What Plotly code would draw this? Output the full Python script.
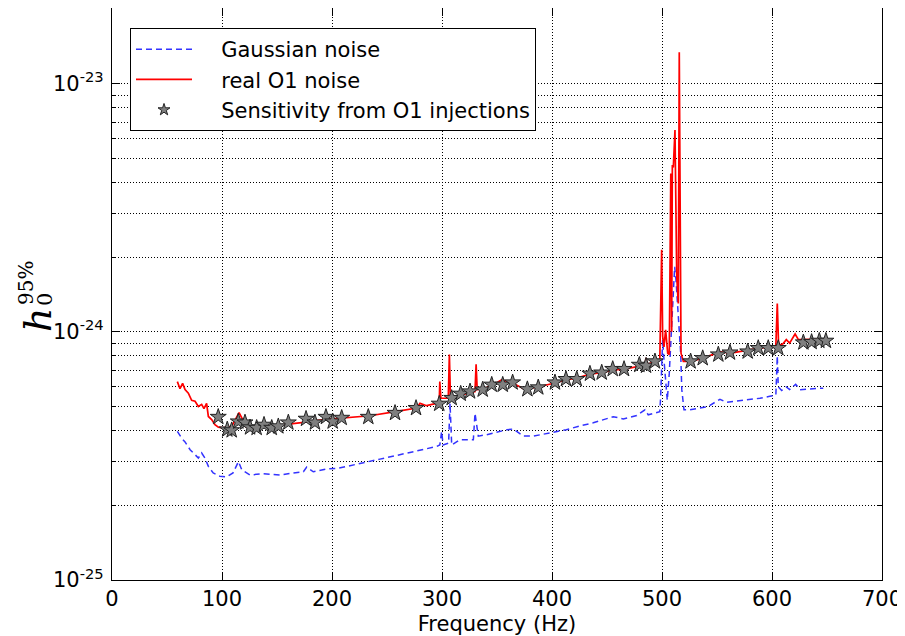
import plotly.graph_objects as go

# ---- data ----
gauss_f = [59.4, 63.3, 66.4, 71, 75.5, 78.5, 81.5, 84.5, 87.6, 92, 98, 104, 110, 115, 118,
           125.5, 137.5, 152.7, 165, 174, 177, 183, 195, 205.7, 243.6, 262, 280, 295, 298,
           299.7, 301, 306, 307.3, 308.8, 316, 328.5, 330, 333, 340.6, 352.7, 358.8, 364.8,
           374, 383, 399.7, 413, 425.5, 437.5, 455.7, 464.8, 477, 484.5, 487.5, 493.6, 498,
           498.8, 499.7, 500.6, 501.8, 503.6, 504.8, 506.6, 508, 510.3, 511.5, 512.7, 514,
           515.7, 517, 518, 520, 525.5, 534.5, 541.8, 552.7, 558.8, 574, 589, 598, 603.5,
           604.8, 605.7, 608.8, 613, 616, 621.5, 625.5, 634.5, 646.6]
gauss_h = [3.97e-25, 3.73e-25, 3.6e-25, 3.35e-25, 3.2e-25, 3.1e-25, 3.25e-25, 3.1e-25, 2.87e-25,
           2.7e-25, 2.62e-25, 2.6e-25, 2.7e-25, 3.0e-25, 2.78e-25, 2.65e-25, 2.68e-25, 2.65e-25,
           2.7e-25, 2.73e-25, 2.85e-25, 2.73e-25, 2.8e-25, 2.82e-25, 3.07e-25, 3.2e-25, 3.35e-25,
           3.45e-25, 3.5e-25, 3.97e-25, 3.5e-25, 3.56e-25, 5.16e-25, 3.5e-25, 3.67e-25, 3.67e-25,
           4.7e-25, 3.8e-25, 3.85e-25, 3.97e-25, 4.03e-25, 4.06e-25, 3.8e-25, 3.8e-25, 3.93e-25,
           4.03e-25, 4.18e-25, 4.3e-25, 4.55e-25, 4.46e-25, 4.6e-25, 4.85e-25, 4.63e-25, 4.7e-25,
           4.77e-25, 5.5e-25, 7.0e-25, 9.3e-25, 7.7e-25, 6.4e-25, 5.3e-25, 6.8e-25, 9.3e-25,
           1.43e-24, 1.83e-24, 1.62e-24, 1.3e-24, 1.08e-24, 8.2e-25, 5.85e-25, 4.85e-25,
           4.85e-25, 4.95e-25, 5.0e-25, 5.35e-25, 5.2e-25, 5.3e-25, 5.4e-25, 5.5e-25, 5.55e-25,
           8.0e-25, 6.0e-25, 5.8e-25, 6.0e-25, 5.85e-25, 6.15e-25, 5.85e-25, 5.88e-25, 5.93e-25]

real_f = [59.4, 61.8, 64.2, 66.4, 69.4, 72.4, 75.5, 78.5, 81.5, 83.6, 86, 87.6, 90.6, 93.6,
          96.7, 101, 108.8, 113, 115.5, 118, 122, 131.5, 143.6, 155.7, 168, 180, 192, 204,
          213, 234.5, 259, 277, 280, 286, 295, 297.5, 298, 299, 305.7, 306.7, 307.7, 313,
          330, 331, 332, 343.6, 354, 363, 375, 387.5, 399.7, 413, 422, 434.5, 446.6, 455.7,
          466, 477, 484.5, 485.5, 486.5, 493.6, 498, 499.7, 500.6, 501.8, 503.3, 505.2,
          506.6, 508, 508.8, 509.4, 510.3, 511.8, 513.4, 514.8, 515.7, 517.3, 518, 519.4,
          525.5, 536, 552.7, 563, 569, 578.5, 589, 599.7, 603.5, 604.8, 606, 610, 613, 616,
          621, 624, 634.5, 646.6, 651]
real_h = [6.3e-25, 5.9e-25, 6.2e-25, 5.85e-25, 5.66e-25, 5.3e-25, 5.25e-25, 5.0e-25, 5.1e-25,
          4.9e-25, 5.15e-25, 4.56e-25, 4.43e-25, 4.23e-25, 4.13e-25, 4.1e-25, 4.16e-25, 4.5e-25,
          4.73e-25, 4.5e-25, 4.13e-25, 4.1e-25, 4.16e-25, 4.2e-25, 4.26e-25, 4.35e-25, 4.43e-25,
          4.48e-25, 4.5e-25, 4.59e-25, 4.78e-25, 4.93e-25, 5.15e-25, 5.04e-25, 5.15e-25, 5.2e-25,
          6.3e-25, 5.4e-25, 5.4e-25, 8.1e-25, 5.4e-25, 5.5e-25, 5.75e-25, 7.4e-25, 5.85e-25,
          6.0e-25, 6.4e-25, 6.25e-25, 5.88e-25, 6.0e-25, 6.18e-25, 6.4e-25, 6.5e-25, 6.75e-25,
          6.86e-25, 7.03e-25, 7.08e-25, 7.25e-25, 7.35e-25, 7.85e-25, 7.38e-25, 7.6e-25, 7.7e-25,
          2.14e-24, 9.6e-25, 8.7e-25, 1.02e-24, 8.2e-25, 8.1e-25, 4.35e-24, 1.0e-24, 4.7e-24,
          4.6e-24, 6.5e-24, 1.67e-24, 1.3e-24, 1.34e-23, 8.2e-25, 8.0e-25, 7.6e-25, 7.6e-25,
          7.8e-25, 8.3e-25, 8.2e-25, 8.3e-25, 8.45e-25, 8.6e-25, 8.7e-25, 8.8e-25, 1.3e-24,
          8.8e-25, 8.95e-25, 9.3e-25, 9.0e-25, 9.8e-25, 9.3e-25, 9.3e-25, 9.35e-25, 9.4e-25]

inj_f = [96.6, 104.8, 108.8, 114.8, 120.9, 125.5, 131.5, 138.2, 145.2, 151.2, 160.3, 176.4,
         184.5, 194.5, 200.6, 208.8, 233.0, 257.3, 276.4, 297.5, 308.8, 317.0, 325.5, 337.0,
         345.2, 355.2, 364.2, 377.6, 387.5, 402.7, 412.7, 422.5, 434.5, 445.2, 455.2, 465.5,
         479.4, 485.5, 493.6, 526.0, 537.0, 551.2, 561.8, 577.9, 587.5, 596.6, 605.7, 628.5,
         636.0, 643.0, 649.0]
inj_h = [4.54e-25, 4.04e-25, 4.01e-25, 4.35e-25, 4.31e-25, 4.12e-25, 4.10e-25, 4.22e-25,
         4.10e-25, 4.16e-25, 4.31e-25, 4.46e-25, 4.31e-25, 4.54e-25, 4.35e-25, 4.50e-25,
         4.54e-25, 4.71e-25, 4.93e-25, 5.13e-25, 5.41e-25, 5.63e-25, 5.75e-25, 5.85e-25,
         6.12e-25, 6.12e-25, 6.25e-25, 5.87e-25, 5.97e-25, 6.25e-25, 6.45e-25, 6.45e-25,
         6.78e-25, 6.85e-25, 7.08e-25, 7.08e-25, 7.36e-25, 7.30e-25, 7.60e-25, 7.60e-25,
         7.83e-25, 8.10e-25, 8.25e-25, 8.33e-25, 8.60e-25, 8.60e-25, 8.60e-25, 9.06e-25,
         9.10e-25, 9.20e-25, 9.20e-25]

x_ticks = [0, 100, 200, 300, 400, 500, 600, 700]
y_major = [1e-25, 1e-24, 1e-23]
y_major_text = ["10<sup>-25</sup>", "10<sup>-24</sup>", "10<sup>-23</sup>"]
y_minor = [m * d for d in (1e-25, 1e-24, 1e-23) for m in range(2, 10)]

FONT = "DejaVu Sans"
SP = "\u00a0\u00a0\u00a0\u2009"

fig = go.Figure()
fig.add_trace(go.Scatter(x=gauss_f, y=gauss_h, mode="lines", name=SP + "Gaussian noise",
                         legendgroup="g1", legendrank=1,
                         line=dict(color="#3333ff", width=1.5, dash="6px,4px")))
fig.add_trace(go.Scatter(x=real_f, y=real_h, mode="lines", name=SP + "real O1 noise",
                         legendgroup="g2", legendrank=2,
                         line=dict(color="#ff0000", width=1.7)))
fig.add_trace(go.Scatter(x=inj_f, y=inj_h, mode="markers", showlegend=False,
                         marker=dict(symbol="star", size=12, color="#7f7f7f",
                                     line=dict(color="#222222", width=1))))
# legend entry for the injections (smaller symbol, as in the reference legend)
fig.add_trace(go.Scatter(x=[None], y=[None], mode="markers",
                         name=SP + "Sensitivity from O1 injections",
                         legendgroup="g3", legendrank=3,
                         marker=dict(symbol="star", size=9, color="#7f7f7f",
                                     line=dict(color="#222222", width=1))))

grid = dict(showgrid=True, gridcolor="#000000", gridwidth=1, griddash="1px,2px")

fig.update_xaxes(range=[0, 700], tickvals=x_ticks, ticks="inside", ticklen=8, tickwidth=1,
                 tickcolor="black", showline=True, linecolor="black", linewidth=1.2,
                 mirror="ticks", zeroline=False, automargin=False,
                 tickfont=dict(family=FONT, size=21, color="black"),
                 title=dict(text="Frequency (Hz)", font=dict(family=FONT, size=21, color="black"),
                            standoff=6), **grid)
fig.update_yaxes(type="log", range=[-25, -22.695], tickvals=y_major, ticktext=y_major_text,
                 ticks="inside", ticklen=8, tickwidth=1, tickcolor="black", showline=True,
                 linecolor="black", linewidth=1.2, mirror="ticks", zeroline=False,
                 automargin=False, ticklabelstandoff=3,
                 tickfont=dict(family=FONT, size=21, color="black"),
                 minor=dict(tickvals=y_minor, ticks="inside", ticklen=4, tickcolor="black",
                            showgrid=True, gridcolor="#000000", griddash="1px,2px"),
                 **grid)

# helpers: screen pixel -> paper coords (plot area spans x 112..882, y 8..580 on screen)
def px_x(p):
    return (p - 112) / 770.0

def px_y(p):
    return (580 - p) / 572.0

# y-axis label h_0^{95%}
fig.add_annotation(x=px_x(14), y=px_y(320), xref="paper", yref="paper", text="<i>h</i>",
                   showarrow=False, textangle=-90,
                   font=dict(family="DejaVu Serif", size=38, color="black"))
fig.add_annotation(x=px_x(31), y=px_y(300), xref="paper", yref="paper", text="0",
                   showarrow=False, textangle=-90,
                   font=dict(family="DejaVu Serif", size=21, color="black"))
fig.add_annotation(x=px_x(12), y=px_y(283), xref="paper", yref="paper", text="95%",
                   showarrow=False, textangle=-90,
                   font=dict(family="DejaVu Serif", size=20, color="black"))

fig.update_layout(
    width=905, height=636,
    margin=dict(l=104, r=31, t=0, b=64, autoexpand=False),
    paper_bgcolor="white", plot_bgcolor="white",
    showlegend=True,
    legend=dict(x=px_x(130), y=px_y(28), xanchor="left", yanchor="top",
                bgcolor="white", bordercolor="black", borderwidth=1,
                font=dict(family=FONT, size=21, color="black"),
                itemwidth=56, traceorder="grouped", tracegroupgap=0),
)

fig.write_html("out.html")
